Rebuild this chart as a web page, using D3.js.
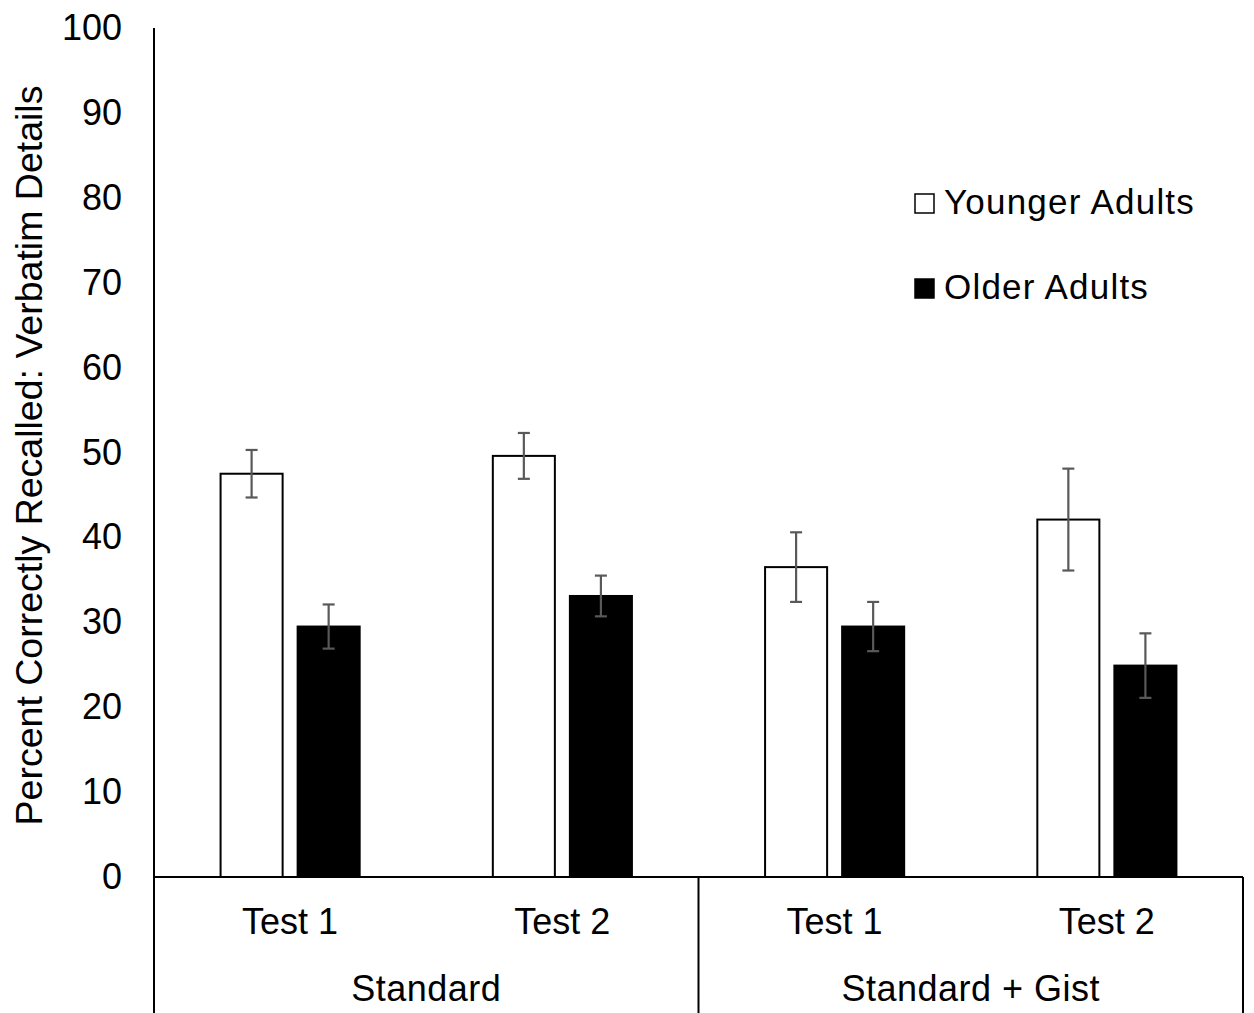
<!DOCTYPE html>
<html lang="en">
<head>
<meta charset="UTF-8">
<title>Verbatim Details Recall</title>
<style>
  body { margin: 0; background: #fff; }
  svg { font-family: "Liberation Sans", Arial, sans-serif; }
</style>
<script src="https://d3js.org/d3.v7.min.js"></script>
</head>
<body>
<div id="chart"></div>
<script>
// data
const conditions = ["Standard", "Standard + Gist"];
const tests = ["Test 1", "Test 2"];
const series = ["Younger Adults", "Older Adults"];
const younger = [47.5, 49.6, 36.5, 42.1];
const youngerErr = [2.8, 2.7, 4.1, 6.0];
const older = [29.5, 33.1, 29.5, 24.9];
const olderErr = [2.6, 2.4, 2.9, 3.8];
const yTicks = [0, 10, 20, 30, 40, 50, 60, 70, 80, 90, 100];

const W = 1254, H = 1013;
const plotLeft = 154, plotRight = 1243, plotTop = 28, base = 877;

const svg = d3.select('#chart').append('svg')
    .attr('width', W).attr('height', H);

// one slot per condition/test pair
const slots = [];
conditions.forEach(c => tests.forEach(t => slots.push(c + '|' + t)));

const x = d3.scaleBand().domain(slots).range([plotLeft, plotRight]).padding(0);
const xInner = d3.scaleBand().domain(series).range([0, x.bandwidth()])
    .paddingInner(15 / 77).paddingOuter(0.864);
const y = d3.scaleLinear().domain([0, 100]).range([base, plotTop]);

// y tick labels
const yAxis = svg.append('g')
    .attr('transform', `translate(${plotLeft},0)`)
    .call(d3.axisLeft(y).tickValues(yTicks).tickSize(0).tickPadding(32));
yAxis.select('.domain').remove();
yAxis.selectAll('text')
    .attr('font-size', 36).attr('font-family', '"Liberation Sans", Arial, sans-serif')
    .attr('fill', '#000');

// y axis line running down through the category area
svg.append('line')
    .attr('x1', plotLeft).attr('x2', plotLeft).attr('y1', y(100)).attr('y2', H)
    .attr('stroke', '#000').attr('stroke-width', 2);

// y title
svg.append('text')
    .attr('transform', `translate(42, ${(y(100) + base) / 2 + 3}) rotate(-90)`)
    .attr('text-anchor', 'middle')
    .attr('font-size', 37.5)
    .text('Percent Correctly Recalled: Verbatim Details');

// bars
const rows = slots.map((s, i) => ({ slot: s, vals: [
    { key: series[0], v: younger[i], e: youngerErr[i] },
    { key: series[1], v: older[i], e: olderErr[i] }
]}));

const g = svg.selectAll('.slot').data(rows).enter().append('g')
    .attr('class', 'slot')
    .attr('transform', d => `translate(${x(d.slot)},0)`);

g.selectAll('rect').data(d => d.vals).enter().append('rect')
    .attr('x', d => xInner(d.key))
    .attr('y', d => y(d.v))
    .attr('width', xInner.bandwidth())
    .attr('height', d => base - y(d.v))
    .attr('fill', d => d.key === series[0] ? '#fff' : '#000')
    .attr('stroke', '#000')
    .attr('stroke-width', 2);

// error bars
const eb = g.selectAll('.err').data(d => d.vals).enter().append('g')
    .attr('class', 'err')
    .attr('stroke', '#595959').attr('stroke-width', 2.2);
const cx = d => xInner(d.key) + xInner.bandwidth() / 2;
eb.append('line')
    .attr('x1', cx).attr('x2', cx)
    .attr('y1', d => y(d.v + d.e)).attr('y2', d => y(d.v - d.e));
eb.append('line')
    .attr('x1', d => cx(d) - 6).attr('x2', d => cx(d) + 6)
    .attr('y1', d => y(d.v + d.e)).attr('y2', d => y(d.v + d.e));
eb.append('line')
    .attr('x1', d => cx(d) - 6).attr('x2', d => cx(d) + 6)
    .attr('y1', d => y(d.v - d.e)).attr('y2', d => y(d.v - d.e));

// baseline and category dividers
svg.append('line')
    .attr('x1', plotLeft).attr('x2', plotRight).attr('y1', base).attr('y2', base)
    .attr('stroke', '#000').attr('stroke-width', 2);
[x(slots[2]), plotRight].forEach(px => {
    svg.append('line')
        .attr('x1', px).attr('x2', px).attr('y1', base).attr('y2', H)
        .attr('stroke', '#000').attr('stroke-width', 2);
});

// test labels
svg.selectAll('.testLbl').data(slots).enter().append('text')
    .attr('class', 'testLbl')
    .attr('x', d => x(d) + x.bandwidth() / 2)
    .attr('y', 934)
    .attr('text-anchor', 'middle')
    .attr('font-size', 36)
    .text(d => d.split('|')[1]);

// condition labels
svg.selectAll('.condLbl').data(conditions).enter().append('text')
    .attr('class', 'condLbl')
    .attr('x', c => (x(c + '|' + tests[0]) + x(c + '|' + tests[1]) + x.bandwidth()) / 2)
    .attr('y', 1001)
    .attr('text-anchor', 'middle')
    .attr('font-size', 36)
    .attr('letter-spacing', 0.5)
    .text(c => c);

// legend
const leg = svg.selectAll('.leg').data(series).enter().append('g')
    .attr('class', 'leg')
    .attr('transform', (d, i) => `translate(915, ${194 + i * 85})`);
leg.append('rect')
    .attr('width', 19).attr('height', 19)
    .attr('fill', (d, i) => i === 0 ? '#fff' : '#000')
    .attr('stroke', '#000').attr('stroke-width', 1.5);
leg.append('text')
    .attr('x', 29).attr('y', 20)
    .attr('font-size', 35)
    .attr('letter-spacing', 1.2)
    .text(d => d);
</script>
</body>
</html>
